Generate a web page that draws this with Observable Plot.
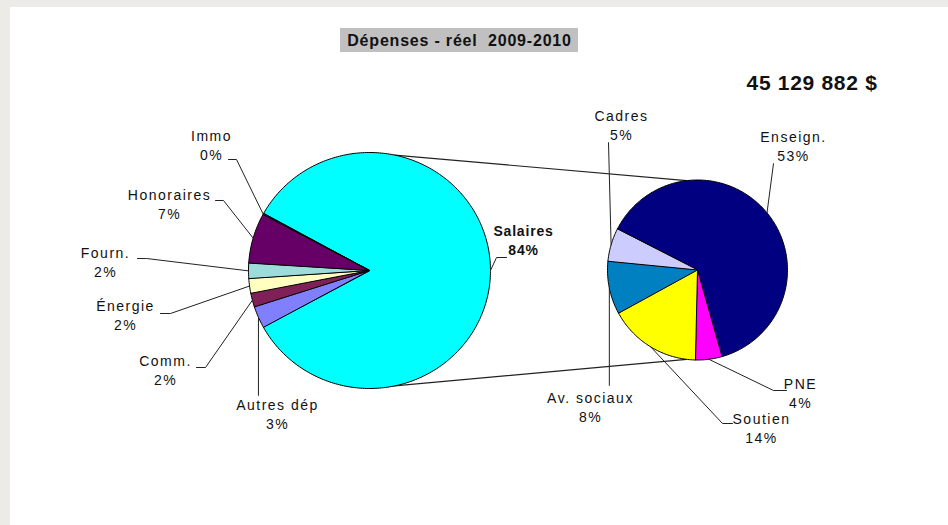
<!DOCTYPE html>
<html><head><meta charset="utf-8">
<script src="https://cdn.jsdelivr.net/npm/d3@7"></script>
<script src="https://cdn.jsdelivr.net/npm/@observablehq/plot@0.6"></script>
<style>
html,body{margin:0;padding:0;background:#ecebe7;}
#chart{width:948px;height:525px;}
</style></head><body><div id="chart"></div>
<script>
// ---- Data ----
const chartTitle = "Dépenses - réel  2009-2010";
const totalLabel = "45 129 882 $";
// main pie, clockwise from the split slice
const mainNames = ["Salaires", "Autres dép", "Comm.", "Énergie", "Fourn.", "Honoraires", "Immo"];
const mainPct = [84.0, 3.0, 1.9, 2.0, 2.1, 6.85, 0.15];
// secondary pie (breakdown of Salaires, % of total), clockwise
const subNames = ["Enseign.", "PNE", "Soutien", "Av. sociaux", "Cadres"];
const subPct = [53, 4, 14, 8, 5];

// ---- Styles ----
const mainColors = ["#00ffff", "#8080ff", "#7f2058", "#ffffc0", "#9edcdc", "#660066", "#660066"];
const subColors = ["#000080", "#ff00ff", "#ffff00", "#0080c0", "#ccccff"];

// ---- Layout (pixels) ----
const BIG = {cx: 369, cy: 270, rx: 121, ry: 118};
const SMALL = {cx: 697, cy: 269.5, rx: 90, ry: 90};
const subStartDeg = -63;
const connectorBigDeg = [12, 168];
const connectorSmallDeg = [-7, 187];
// label layout: text centre, leader elbow, leader end
const mainLabelLayout = [
  {tx: 523, ty: 231, ex: 496, ey: 257, hx: 506, hy: 257},
  {tx: 277, ty: 405, ex: null, ey: 395, hx: null, hy: 395},
  {tx: 165, ty: 361, ex: 205, ey: 367, hx: 196, hy: 367},
  {tx: 125, ty: 306, ex: 170, ey: 313, hx: 160, hy: 313},
  {tx: 105, ty: 253, ex: 146, ey: 258, hx: 137, hy: 258},
  {tx: 169, ty: 195, ex: 223, ey: 200, hx: 215, hy: 200},
  {tx: 211, ty: 136, ex: 236, ey: 159, hx: 228, hy: 159}
];
const subLabelLayout = [
  {tx: 793, ty: 137, ex: 773, ey: 163, hx: 773, hy: 163},
  {tx: 800, ty: 384, ex: 773, ey: 390, hx: 786, hy: 390},
  {tx: 761, ty: 419, ex: 722, ey: 423, hx: 732, hy: 423},
  {tx: 590, ty: 398, ex: null, ey: 385, hx: null, hy: 385},
  {tx: 621, ty: 116, ex: 608, ey: 142, hx: 608, hy: 142}
];
const titleBox = {x1: 340, y1: 28, x2: 578, y2: 52};
const panel = {x1: 10, y1: 7, x2: 948, y2: 525};

// ---- Geometry ----
const rad = d => d * Math.PI / 180;
function pt(P, a) { return [P.cx + P.rx * Math.sin(a), P.cy - P.ry * Math.cos(a)]; }

function buildPie(P, names, vals, colors, start, layout, prefix) {
  const arcs = d3.pie().sort(null).value(d => d).startAngle(start).endAngle(start + 2 * Math.PI)(vals);
  const poly = [], leaders = [], labels = [];
  arcs.forEach((a, i) => {
    const key = prefix + i;
    poly.push({k: key, x: P.cx, y: P.cy, c: colors[i]});
    const n = Math.max(2, Math.ceil((a.endAngle - a.startAngle) / rad(1)));
    for (let j = 0; j <= n; j++) {
      const t = a.startAngle + (a.endAngle - a.startAngle) * j / n;
      const [x, y] = pt(P, t);
      poly.push({k: key, x, y, c: colors[i]});
    }
    const mid = (a.startAngle + a.endAngle) / 2;
    const [mx, my] = pt(P, mid);
    const L = layout[i];
    const ex = L.ex == null ? mx : L.ex, hx = L.hx == null ? mx : L.hx;
    leaders.push({k: key, x: mx, y: my}, {k: key, x: ex, y: L.ey}, {k: key, x: hx, y: L.hy});
    labels.push({name: names[i], pct: Math.round(vals[i]) + "%", x: L.tx, y: L.ty, bold: prefix === "m" && i === 0});
  });
  return {poly, leaders, labels};
}

const mainStart = Math.PI / 2 - Math.PI * mainPct[0] / d3.sum(mainPct);
const main = buildPie(BIG, mainNames, mainPct, mainColors, mainStart, mainLabelLayout, "m");
const sub = buildPie(SMALL, subNames, subPct, subColors, rad(subStartDeg), subLabelLayout, "s");

const connectors = [0, 1].flatMap(i => {
  const [x1, y1] = pt(BIG, rad(connectorBigDeg[i]));
  const [x2, y2] = pt(SMALL, rad(connectorSmallDeg[i]));
  return [{k: "c" + i, x: x1, y: y1}, {k: "c" + i, x: x2, y: y2}];
});
const labels = [...main.labels, ...sub.labels];
const font = "'Liberation Sans', Arial, sans-serif";

const chart = Plot.plot({
  width: 948, height: 525,
  margin: 0,
  x: {domain: [0, 948], range: [0, 948], axis: null},
  y: {domain: [0, 525], range: [0, 525], axis: null},
  color: {type: "identity"},
  style: {background: "transparent", fontFamily: font},
  marks: [
    Plot.rect([panel], {x1: "x1", y1: "y1", x2: "x2", y2: "y2", fill: "white"}),
    Plot.rect([titleBox], {x1: "x1", y1: "y1", x2: "x2", y2: "y2", fill: "#c0c0c0"}),
    Plot.text([chartTitle], {x: (titleBox.x1 + titleBox.x2) / 2, y: (titleBox.y1 + titleBox.y2) / 2, text: d => d, fontSize: 16, fontWeight: "bold", fill: "#111"}),
    Plot.text([totalLabel], {x: 746, y: 83, text: d => d, textAnchor: "start", fontSize: 21, fontWeight: "bold", fill: "#111"}),
    Plot.line(connectors, {x: "x", y: "y", z: "k", stroke: "#222", strokeWidth: 1.2}),
    Plot.line(main.poly, {x: "x", y: "y", z: "k", fill: "c", stroke: "#000", strokeWidth: 1, curve: "linear-closed"}),
    Plot.line(sub.poly, {x: "x", y: "y", z: "k", fill: "c", stroke: "#000", strokeWidth: 1, curve: "linear-closed"}),
    Plot.line([...main.leaders, ...sub.leaders], {x: "x", y: "y", z: "k", stroke: "#222", strokeWidth: 1}),
    Plot.text(labels.filter(d => !d.bold), {x: "x", y: "y", text: "name", fontSize: 14, fill: "#111"}),
    Plot.text(labels.filter(d => !d.bold), {x: "x", y: d => d.y + 19, text: "pct", fontSize: 14, fill: "#111"}),
    Plot.text(labels.filter(d => d.bold), {x: "x", y: "y", text: "name", fontSize: 14, fontWeight: "bold", fill: "#111"}),
    Plot.text(labels.filter(d => d.bold), {x: "x", y: d => d.y + 19, text: "pct", fontSize: 14, fontWeight: "bold", fill: "#111"})
  ]
});
// text spacing tweaks (title, total, labels, pcts, bold label, bold pct)
const spacing = ["0.8px", "0.7px", "1.5px", "1.5px", "0.8px", "0.8px"];
chart.querySelectorAll("g[aria-label='text']").forEach((g, i) => {
  g.style.letterSpacing = spacing[i] || "0px";
  if (i === 0) g.style.whiteSpace = "pre";
});
document.getElementById("chart").appendChild(chart);
</script></body></html>
